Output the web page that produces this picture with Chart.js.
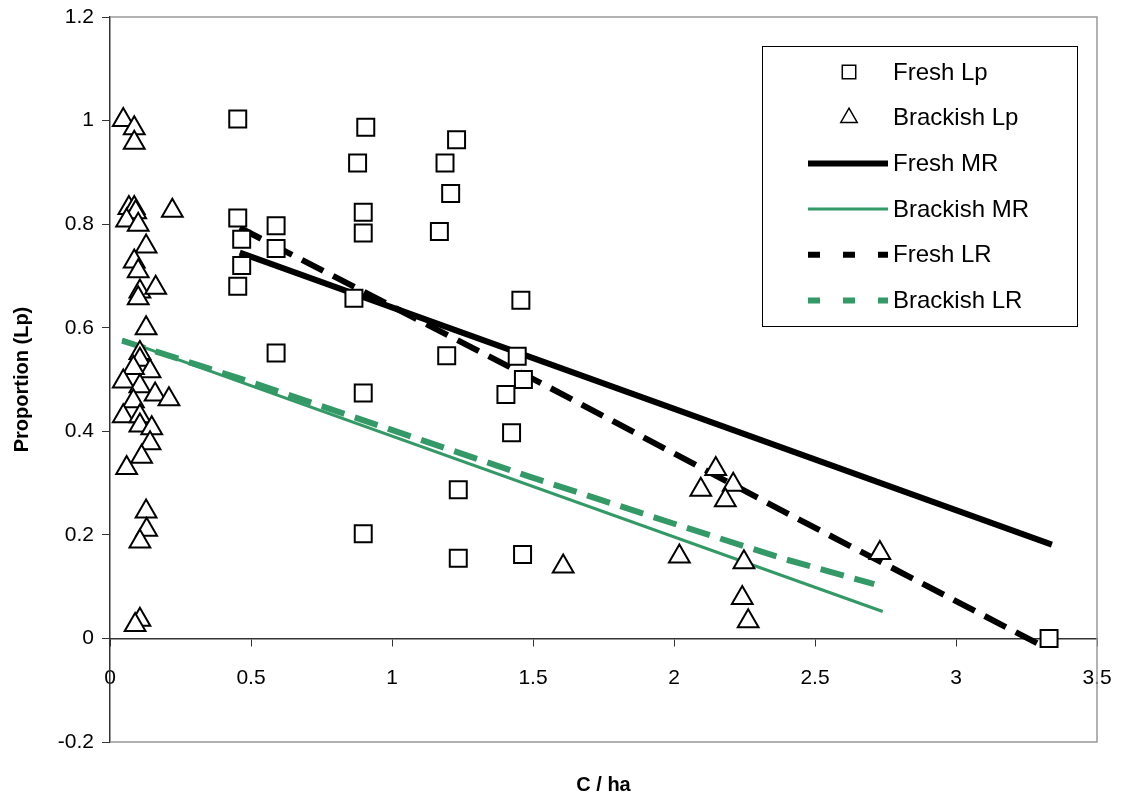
<!DOCTYPE html>
<html>
<head>
<meta charset="utf-8">
<script src="https://cdn.jsdelivr.net/npm/chart.js@4.4.1/dist/chart.umd.min.js"></script>
<style>
  html, body { margin: 0; padding: 0; background: #fff; }
  #wrap { width: 1124px; height: 801px; }
</style>
</head>
<body>
<div id="wrap"><canvas id="lpChart" width="1124" height="801"></canvas></div>
<script>
// Fresh Lp (squares)
const freshX = [0.453, 0.907, 1.229, 0.878, 1.188, 1.208, 0.898, 0.898, 1.168, 0.453,
                0.589, 0.467, 0.589, 0.467, 0.453, 0.865, 1.457, 1.444, 0.589, 1.194,
                1.466, 1.404, 0.898, 1.424, 1.235, 0.898, 1.235, 1.463, 3.33];
const freshY = [1.003, 0.987, 0.963, 0.918, 0.918, 0.859, 0.823, 0.783, 0.786, 0.812,
                0.797, 0.771, 0.753, 0.720, 0.680, 0.657, 0.653, 0.545, 0.551, 0.546,
                0.500, 0.471, 0.474, 0.397, 0.287, 0.202, 0.155, 0.162, 0.0];

// Brackish Lp (triangles)
const brackX = [0.047, 0.086, 0.086, 0.067, 0.086, 0.091, 0.059, 0.100, 0.221, 0.128,
                0.086, 0.100, 0.106, 0.162, 0.100, 0.128, 0.106, 0.106, 0.142, 0.083,
                0.047, 0.106, 0.160, 0.209, 0.083, 0.047, 0.106, 0.106, 0.148, 0.142,
                0.112, 0.059, 0.128, 0.130, 0.106, 0.106, 0.089, 1.607, 2.019, 2.148,
                2.095, 2.210, 2.182, 2.248, 2.242, 2.263, 2.730];
const brackY = [1.001, 0.985, 0.957, 0.831, 0.831, 0.823, 0.807, 0.799, 0.826, 0.757,
                0.728, 0.709, 0.670, 0.677, 0.657, 0.599, 0.551, 0.538, 0.516, 0.522,
                0.496, 0.487, 0.471, 0.462, 0.458, 0.429, 0.429, 0.411, 0.406, 0.377,
                0.351, 0.329, 0.245, 0.210, 0.187, 0.036, 0.026, 0.139, 0.158, 0.327,
                0.287, 0.297, 0.267, 0.147, 0.078, 0.033, 0.165];

// fitted lines
const freshMRX = [0.46, 3.34];
const freshMRY = [0.745, 0.181];
const brackMRX = [0.043, 2.74];
const brackMRY = [0.577, 0.052];
const freshLRX = [0.46, 1.56, 2.40, 3.29];
const freshLRY = [0.793, 0.484, 0.242, -0.01];
const brackLRX = [0.043, 0.5, 1.49, 2.02, 2.40, 2.71];
const brackLRY = [0.575, 0.495, 0.312, 0.218, 0.152, 0.105];

// axis ticks
const xTicks = [0, 0.5, 1, 1.5, 2, 2.5, 3, 3.5];
const yTicks = [-0.2, 0, 0.2, 0.4, 0.6, 0.8, 1, 1.2];

const green = '#339966';
const font = 'Liberation Sans, Arial, sans-serif';

function pts(xs, ys) {
  return xs.map((x, i) => ({ x: x, y: ys[i] }));
}

// plain number labels: 1 not 1.0
function plain(v) {
  return String(Number(v.toFixed(2)));
}

Chart.defaults.font.family = font;
Chart.defaults.color = '#000';

// gray frame round the plot area and the x title
const framePlugin = {
  id: 'frame',
  beforeDatasetsDraw(chart) {
    const ctx = chart.ctx;
    const a = chart.chartArea;
    ctx.save();
    ctx.strokeStyle = '#999';
    ctx.lineWidth = 1.5;
    ctx.beginPath();
    ctx.moveTo(a.left, a.top);
    ctx.lineTo(a.right, a.top);
    ctx.lineTo(a.right, a.bottom);
    ctx.lineTo(a.left, a.bottom);
    ctx.stroke();
    ctx.fillStyle = '#000';
    ctx.font = 'bold 20px ' + font;
    ctx.textAlign = 'center';
    ctx.textBaseline = 'middle';
    ctx.fillText('C / ha', (a.left + a.right) / 2, 785);
    ctx.restore();
  }
};

// legend box inside the plot
const boxLegend = {
  id: 'boxLegend',
  afterDraw(chart) {
    const ctx = chart.ctx;
    const a = chart.chartArea;
    const w = 315, h = 280;
    const left = a.right - 20 - w;
    const top = a.top + 29;
    ctx.save();
    ctx.fillStyle = '#fff';
    ctx.fillRect(left, top, w, h);
    ctx.strokeStyle = '#000';
    ctx.lineWidth = 1;
    ctx.strokeRect(left + 0.5, top + 0.5, w, h);
    chart.data.datasets.forEach((ds, i) => {
      const y = top + 26 + i * 45.7;
      if (ds.showLine) {
        ctx.strokeStyle = ds.borderColor;
        ctx.lineWidth = ds.borderWidth;
        ctx.setLineDash(ds.borderDash ? [12, 23] : []);
        ctx.beginPath();
        ctx.moveTo(left + 46, y);
        ctx.lineTo(left + 126, y);
        ctx.stroke();
        ctx.setLineDash([]);
      } else {
        ctx.strokeStyle = '#000';
        ctx.fillStyle = '#fff';
        ctx.lineWidth = 1.5;
        Chart.helpers.drawPoint(ctx, { pointStyle: ds.pointStyle, radius: 9.5, rotation: 0, borderWidth: 1.5 }, left + 87, y);
      }
      ctx.fillStyle = '#000';
      ctx.font = '24px ' + font;
      ctx.textAlign = 'left';
      ctx.textBaseline = 'middle';
      ctx.fillText(ds.label, left + 131, y + 1);
    });
    ctx.restore();
  }
};

const ctx = document.getElementById('lpChart').getContext('2d');

const lpChart = new Chart(ctx, {
  type: 'scatter',
  data: {
    datasets: [
      { label: 'Fresh Lp', data: pts(freshX, freshY), pointStyle: 'rect', pointRadius: 12,
        pointBackgroundColor: '#fff', pointBorderColor: '#000', pointBorderWidth: 2, showLine: false, order: 0 },
      { label: 'Brackish Lp', data: pts(brackX, brackY), pointStyle: 'triangle', pointRadius: 12,
        pointBackgroundColor: '#fff', pointBorderColor: '#000', pointBorderWidth: 2, showLine: false, order: 0 },
      { label: 'Fresh MR', data: pts(freshMRX, freshMRY), showLine: true, borderColor: '#000', borderWidth: 6,
        pointRadius: 0, fill: false, order: 2 },
      { label: 'Brackish MR', data: pts(brackMRX, brackMRY), showLine: true, borderColor: green, borderWidth: 3,
        pointRadius: 0, fill: false, order: 2 },
      { label: 'Fresh LR', data: pts(freshLRX, freshLRY), showLine: true, borderColor: '#000', borderWidth: 6,
        borderDash: [24, 11], pointRadius: 0, fill: false, order: 1 },
      { label: 'Brackish LR', data: pts(brackLRX, brackLRY), showLine: true, borderColor: green, borderWidth: 6,
        borderDash: [24, 11], pointRadius: 0, fill: false, order: 1 }
    ]
  },
  options: {
    responsive: false,
    animation: false,
    devicePixelRatio: 1,
    layout: { padding: { top: 17, right: 27, bottom: 59, left: 0 } },
    plugins: {
      legend: { display: false },
      tooltip: { enabled: false }
    },
    scales: {
      x: {
        type: 'linear',
        position: { y: 0 },
        min: 0,
        max: 3.5,
        afterBuildTicks: (s) => { s.ticks = xTicks.map(v => ({ value: v })); },
        afterFit: (s) => { s.paddingLeft = 0; s.paddingRight = 0; },
        ticks: { font: { size: 21 }, color: '#000', padding: 20, callback: (v) => plain(v) },
        grid: { display: true, drawOnChartArea: false, drawTicks: true, tickLength: 7, color: '#333' },
        border: { display: true, color: '#333', width: 1.5 }
      },
      y: {
        min: -0.2,
        max: 1.2,
        afterBuildTicks: (s) => { s.ticks = yTicks.map(v => ({ value: v })); },
        afterFit: (s) => { s.width = 110; s.paddingTop = 0; s.paddingBottom = 0; },
        ticks: { font: { size: 21 }, color: '#000', padding: 8, callback: (v) => plain(v) },
        grid: { display: true, drawOnChartArea: false, drawTicks: true, tickLength: 8, color: '#333' },
        border: { display: true, color: '#333', width: 1.5 },
        title: { display: true, text: 'Proportion (Lp)', font: { size: 20, weight: 'bold' }, color: '#000',
                 padding: { top: 10, bottom: 0 } }
      }
    }
  },
  plugins: [framePlugin, boxLegend]
});
</script>
</body>
</html>
